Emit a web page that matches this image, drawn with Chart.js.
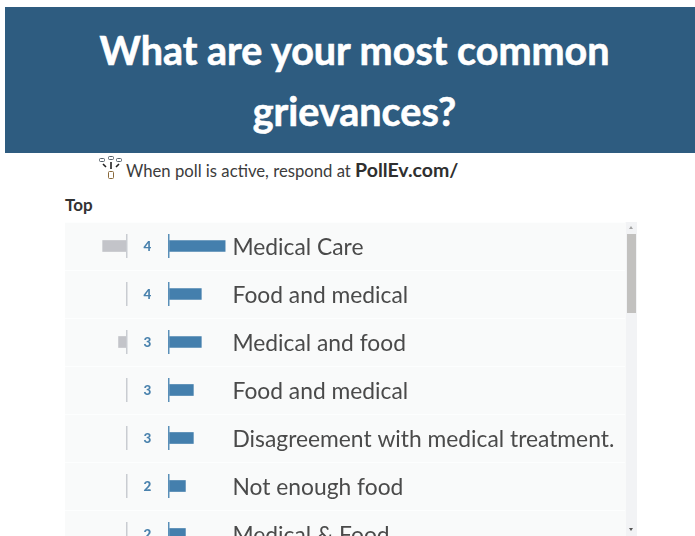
<!DOCTYPE html>
<html>
<head>
<meta charset="utf-8">
<title>What are your most common grievances?</title>
<script src="https://cdn.jsdelivr.net/npm/chart.js@4"></script>
<style>
    html, body { margin: 0; padding: 0; background: #fff; overflow: hidden; height: 536px; }
    body { position: relative; width: 695px; font-family: Lato, "Noto Sans", sans-serif; color: #3c3c3c; }

    /* header */
    .banner {
        position: absolute; left: 5px; top: 7px; width: 690px; height: 146px;
        background: #2e5c80; color: #fff; text-align: center;
        font-weight: 700; font-size: 39.5px; line-height: 61px;
        -webkit-text-stroke: 0.6px #fff;
    }
    .banner div { padding: 12px 0 0 9px; }

    .respond { position: absolute; left: 126px; top: 158px; font-size: 16.7px; line-height: 24px; white-space: nowrap; }
    .respond b { font-size: 19.5px; color: #2f2f2f; }
    .icon { position: absolute; left: 98px; top: 155px; }
    .top-label { position: absolute; left: 65px; top: 194px; font-size: 17px; line-height: 22px; font-weight: 700; color: #333; }

    /* list with scrollbar */
    .panel { position: absolute; left: 65px; top: 222px; width: 572px; height: 336px; background: #f9fafa; }
    #responses { position: absolute; left: 0; top: 0; }
    .track { position: absolute; left: 561px; top: 0; width: 11px; height: 314px; background: #f2f3f5; }
    .thumb { position: absolute; left: 1px; top: 12px; width: 9px; height: 79px; background: #c2c1bf; }
    .arrow { position: absolute; left: 3px; width: 0; height: 0; border-left: 2.5px solid transparent; border-right: 2.5px solid transparent; }
    .arrow.up { top: 4px; border-bottom: 3px solid #a3a3a3; }
    .arrow.down { top: 306px; border-top: 3px solid #555; }
</style>
</head>
<body>

<div class="banner"><div>What are your most common<br>grievances?</div></div>

<svg class="icon" width="26" height="24" viewBox="0 0 26 24" fill="none" stroke="#55606a" stroke-width="1">
    <rect x="1.5" y="3.5" width="5" height="3" rx="1"/>
    <rect x="10.5" y="1.5" width="5" height="3" rx="1"/>
    <rect x="18.5" y="3.5" width="5" height="3" rx="1"/>
    <rect x="10.5" y="16.5" width="5" height="7" rx="1" stroke="#8a6a3c"/>
    <path d="M13 14V7M5 9l3 3M21 9l-3 3" stroke="#222" stroke-width="1.6"/>
</svg>
<div class="respond">When poll is active, respond at <b>PollEv.com/</b></div>
<div class="top-label">Top</div>

<div class="panel">
    <canvas id="responses" width="560" height="336"></canvas>
    <div class="track">
        <div class="arrow up"></div>
        <div class="thumb"></div>
        <div class="arrow down"></div>
    </div>
</div>

<script>
    var responses = [
        'Medical Care',
        'Food and medical',
        'Medical and food',
        'Food and medical',
        'Disagreement with medical treatment.',
        'Not enough food',
        'Medical & Food'
    ];
    var upvotes   = [7, 4, 4, 3, 3, 2, 2];
    var downvotes = [3, 0, 1, 0, 0, 0, 0];
    var scores    = [4, 4, 3, 3, 3, 2, 2];

    var FONT = 'Lato, "Noto Sans", sans-serif';
    var PX_PER_VOTE = 7.95;
    var UP_ZERO = 104.5;    // canvas x of the upvote baseline
    var DOWN_ZERO = 61.5;   // canvas x of the downvote baseline
    var WIDTH = 560;

    /* baseline ticks, score number and response text in each row */
    var rowMarks = {
        id: 'rowMarks',
        afterDatasetsDraw: function ( chart ) {
            var ctx = chart.ctx;
            var upX = chart.scales.x.getPixelForValue( 0 );
            var downX = chart.scales.xDown.getPixelForValue( 0 );
            ctx.save();
            ctx.textBaseline = 'middle';
            responses.forEach( function ( name, i ) {
                var y = chart.scales.y.getPixelForValue( i );
                ctx.fillStyle = '#c9ccd1';
                ctx.fillRect( downX - 0.5, y - 12, 1.5, 24 );
                ctx.fillStyle = '#5a8fb8';
                ctx.fillRect( upX - 1.5, y - 12, 1.5, 24 );

                ctx.fillStyle = '#4a82ad';
                ctx.font = '900 13.5px ' + FONT;
                ctx.textAlign = 'center';
                ctx.fillText( scores[i], 82.5, y + 0.5 );

                ctx.fillStyle = '#4a4a4a';
                ctx.font = '22.8px ' + FONT;
                ctx.textAlign = 'left';
                ctx.fillText( name, upX + 63, y + 1.5 );
            } );
            ctx.restore();
        }
    };

    new Chart( document.getElementById( 'responses' ), {
        type: 'bar',
        plugins: [ rowMarks ],
        data: {
            labels: responses,
            datasets: [
                { label: 'Up', data: upvotes, xAxisID: 'x', backgroundColor: '#447fad', barThickness: 11, grouped: false },
                { label: 'Down', data: downvotes, xAxisID: 'xDown', backgroundColor: '#c3c4c9', barThickness: 11, grouped: false }
            ]
        },
        options: {
            indexAxis: 'y',
            responsive: false,
            animation: false,
            layout: { padding: 0 },
            plugins: { legend: { display: false }, tooltip: { enabled: false } },
            scales: {
                x: {
                    display: false,
                    min: -UP_ZERO / PX_PER_VOTE,
                    max: ( WIDTH - UP_ZERO ) / PX_PER_VOTE
                },
                xDown: {
                    display: false,
                    reverse: true,
                    min: -( WIDTH - DOWN_ZERO ) / PX_PER_VOTE,
                    max: DOWN_ZERO / PX_PER_VOTE
                },
                y: {
                    grid: { color: '#fdfefe', lineWidth: 1, drawTicks: false },
                    border: { display: false },
                    ticks: { display: false }
                }
            }
        }
    } );
</script>
</body>
</html>
